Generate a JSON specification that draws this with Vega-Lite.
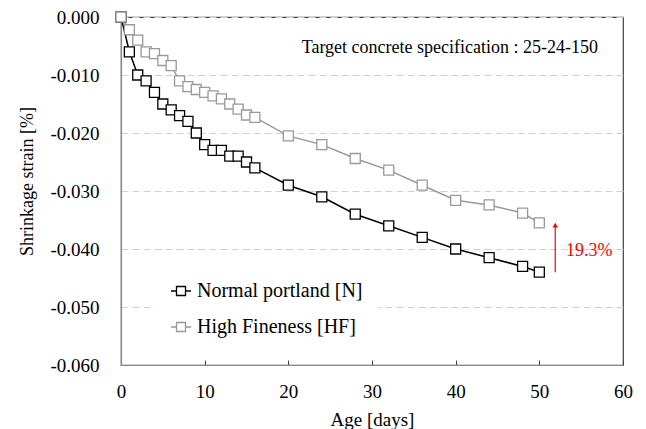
{
  "$schema": "https://vega.github.io/schema/vega-lite/v6.json",
  "width": 502,
  "height": 348,
  "autosize": {"type": "none"},
  "padding": {"left": 121, "top": 17, "right": 23, "bottom": 64},
  "background": "white",
  "config": {
    "font": "Liberation Serif",
    "view": {"stroke": "#404040", "strokeWidth": 1.2},
    "axis": {
      "labelFont": "Liberation Serif",
      "titleFont": "Liberation Serif",
      "labelColor": "#000000",
      "titleColor": "#000000",
      "titleFontWeight": "normal",
      "labelFontSize": 19,
      "titleFontSize": 18,
      "domainColor": "#8a8a8a",
      "domainWidth": 1.2,
      "labelFlush": false
    },
    "legend": {"labelFont": "Liberation Serif"}
  },
  "datasets": {
    "series": [
      {"series": "Normal portland [N]", "day": 0, "strain": 0},
      {"series": "Normal portland [N]", "day": 1, "strain": -0.006},
      {"series": "Normal portland [N]", "day": 2, "strain": -0.010},
      {"series": "Normal portland [N]", "day": 3, "strain": -0.011},
      {"series": "Normal portland [N]", "day": 4, "strain": -0.013},
      {"series": "Normal portland [N]", "day": 5, "strain": -0.015},
      {"series": "Normal portland [N]", "day": 6, "strain": -0.016},
      {"series": "Normal portland [N]", "day": 7, "strain": -0.017},
      {"series": "Normal portland [N]", "day": 8, "strain": -0.018},
      {"series": "Normal portland [N]", "day": 9, "strain": -0.020},
      {"series": "Normal portland [N]", "day": 10, "strain": -0.022},
      {"series": "Normal portland [N]", "day": 11, "strain": -0.023},
      {"series": "Normal portland [N]", "day": 12, "strain": -0.023},
      {"series": "Normal portland [N]", "day": 13, "strain": -0.024},
      {"series": "Normal portland [N]", "day": 14, "strain": -0.024},
      {"series": "Normal portland [N]", "day": 15, "strain": -0.025},
      {"series": "Normal portland [N]", "day": 16, "strain": -0.026},
      {"series": "Normal portland [N]", "day": 20, "strain": -0.029},
      {"series": "Normal portland [N]", "day": 24, "strain": -0.031},
      {"series": "Normal portland [N]", "day": 28, "strain": -0.034},
      {"series": "Normal portland [N]", "day": 32, "strain": -0.036},
      {"series": "Normal portland [N]", "day": 36, "strain": -0.038},
      {"series": "Normal portland [N]", "day": 40, "strain": -0.040},
      {"series": "Normal portland [N]", "day": 44, "strain": -0.0415},
      {"series": "Normal portland [N]", "day": 48, "strain": -0.043},
      {"series": "Normal portland [N]", "day": 50, "strain": -0.044},
      {"series": "High Fineness [HF]", "day": 0, "strain": 0},
      {"series": "High Fineness [HF]", "day": 1, "strain": -0.0022},
      {"series": "High Fineness [HF]", "day": 2, "strain": -0.004},
      {"series": "High Fineness [HF]", "day": 3, "strain": -0.006},
      {"series": "High Fineness [HF]", "day": 4, "strain": -0.0063},
      {"series": "High Fineness [HF]", "day": 5, "strain": -0.0075},
      {"series": "High Fineness [HF]", "day": 6, "strain": -0.0084},
      {"series": "High Fineness [HF]", "day": 7, "strain": -0.011},
      {"series": "High Fineness [HF]", "day": 8, "strain": -0.012},
      {"series": "High Fineness [HF]", "day": 9, "strain": -0.0125},
      {"series": "High Fineness [HF]", "day": 10, "strain": -0.013},
      {"series": "High Fineness [HF]", "day": 11, "strain": -0.0136},
      {"series": "High Fineness [HF]", "day": 12, "strain": -0.0141},
      {"series": "High Fineness [HF]", "day": 13, "strain": -0.015},
      {"series": "High Fineness [HF]", "day": 14, "strain": -0.0159},
      {"series": "High Fineness [HF]", "day": 15, "strain": -0.0169},
      {"series": "High Fineness [HF]", "day": 16, "strain": -0.0173},
      {"series": "High Fineness [HF]", "day": 20, "strain": -0.0205},
      {"series": "High Fineness [HF]", "day": 24, "strain": -0.022},
      {"series": "High Fineness [HF]", "day": 28, "strain": -0.0244},
      {"series": "High Fineness [HF]", "day": 32, "strain": -0.0264},
      {"series": "High Fineness [HF]", "day": 36, "strain": -0.029},
      {"series": "High Fineness [HF]", "day": 40, "strain": -0.0316},
      {"series": "High Fineness [HF]", "day": 44, "strain": -0.0324},
      {"series": "High Fineness [HF]", "day": 48, "strain": -0.0338},
      {"series": "High Fineness [HF]", "day": 50, "strain": -0.0355}
    ],
    "arrow": [{"day": 51.9, "from": -0.0440, "to": -0.0360}],
    "arrowhead": [{"day": 51.9, "strain": -0.0359}],
    "spec": [{"day": 21.6, "strain": -0.0054, "label": "Target concrete specification : 25-24-150"}],
    "diff": [{"day": 53.2, "strain": -0.0403, "label": "19.3%"}]
  },
  "layer": [
    {
      "data": {"name": "series"},
      "mark": {"type": "line", "strokeWidth": 1.5},
      "encoding": {
        "x": {
          "field": "day", "type": "quantitative",
          "scale": {"domain": [0, 60], "nice": false},
          "axis": {
            "title": "Age [days]",
            "values": [0, 10, 20, 30, 40, 50, 60],
            "grid": false,
            "tickSize": -5,
            "tickColor": "#404040",
            "labelPadding": 22,
            "labelFlush": false,
            "titleFontSize": 19,
            "titleY": 60,
            "titleBaseline": "alphabetic"
          }
        },
        "y": {
          "field": "strain", "type": "quantitative",
          "scale": {"domain": [-0.06, 0], "nice": false},
          "axis": {
            "title": "Shrinkage strain [%]",
            "values": [0, -0.01, -0.02, -0.03, -0.04, -0.05, -0.06],
            "labelExpr": "datum.value < 0 ? '-' + format(-datum.value, '.3f') : format(datum.value, '.3f')",
            "grid": true,
            "gridColor": "#d0d0d0",
            "gridDash": [7, 4],
            "ticks": false,
            "labelPadding": 22,
            "labelFlush": false,
            "titleX": -89,
            "titleY": 164,
            "titleBaseline": "alphabetic",
            "titleAlign": "center",
            "titleAngle": -90
          }
        },
        "stroke": {
          "field": "series", "type": "nominal",
          "scale": {"domain": ["Normal portland [N]", "High Fineness [HF]"], "range": ["#000000", "#999999"]},
          "legend": {
            "title": null,
            "orient": "none",
            "legendX": 34,
            "legendY": 248,
            "fillColor": "white",
            "padding": 15,
            "labelFont": "Liberation Serif",
            "labelFontSize": 20,
            "labelColor": "#000000",
            "labelLimit": 400,
            "labelOffset": 5,
            "rowPadding": 15,
            "symbolType": "M-1,0H-0.45M0.45,0H1M-0.45,-0.45H0.45V0.45H-0.45Z",
            "symbolSize": 400,
            "symbolStrokeWidth": 1.3,
            "symbolFillColor": "white"
          }
        }
      }
    },
    {
      "data": {"name": "series"},
      "mark": {"type": "point", "shape": "square", "filled": true, "fill": "white", "size": 100, "strokeWidth": 1.3, "opacity": 1},
      "encoding": {
        "x": {"field": "day", "type": "quantitative"},
        "y": {"field": "strain", "type": "quantitative"},
        "stroke": {"field": "series", "type": "nominal"}
      }
    },
    {
      "data": {"name": "arrow"},
      "mark": {"type": "rule", "color": "#ff0000", "strokeWidth": 1.2},
      "encoding": {
        "x": {"field": "day", "type": "quantitative"},
        "y": {"field": "from", "type": "quantitative"},
        "y2": {"field": "to"}
      }
    },
    {
      "data": {"name": "arrowhead"},
      "mark": {"type": "point", "shape": "triangle-up", "filled": true, "color": "#ff0000", "size": 30, "opacity": 1},
      "encoding": {
        "x": {"field": "day", "type": "quantitative"},
        "y": {"field": "strain", "type": "quantitative"}
      }
    },
    {
      "data": {"name": "spec"},
      "mark": {"type": "text", "align": "left", "baseline": "middle", "font": "Liberation Serif", "fontSize": 18, "color": "#000000"},
      "encoding": {
        "x": {"field": "day", "type": "quantitative"},
        "y": {"field": "strain", "type": "quantitative"},
        "text": {"field": "label"}
      }
    },
    {
      "data": {"name": "diff"},
      "mark": {"type": "text", "align": "left", "baseline": "middle", "font": "Liberation Serif", "fontSize": 18, "color": "#ff0000"},
      "encoding": {
        "x": {"field": "day", "type": "quantitative"},
        "y": {"field": "strain", "type": "quantitative"},
        "text": {"field": "label"}
      }
    }
  ]
}
